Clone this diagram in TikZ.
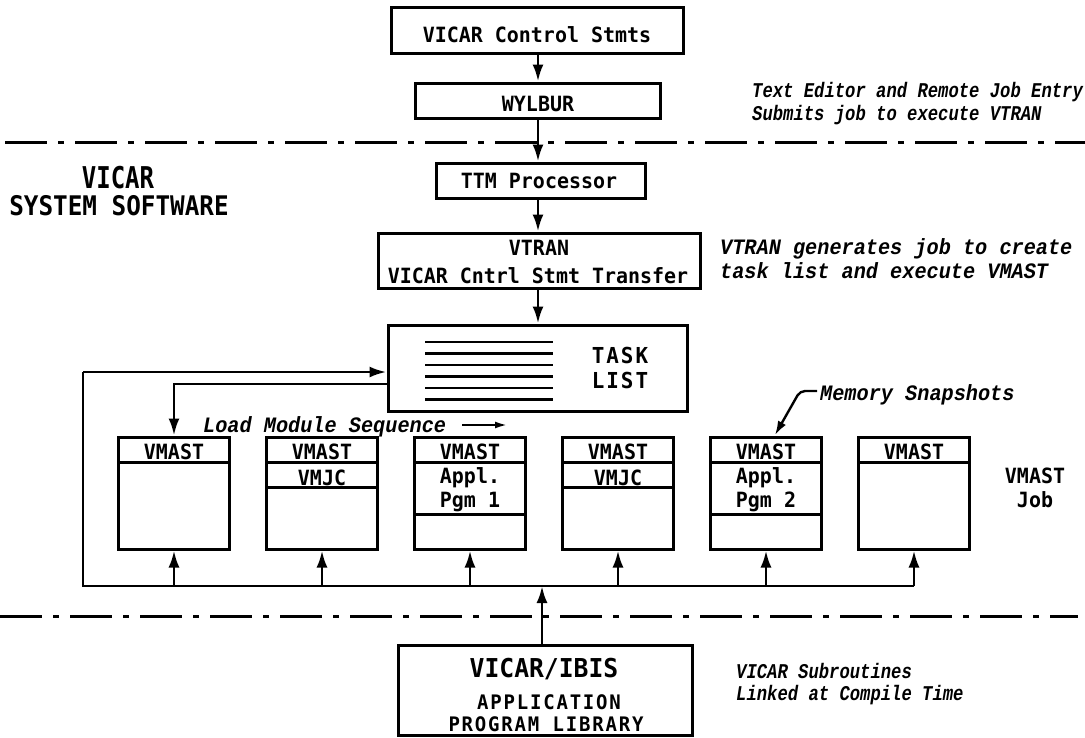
\documentclass[tikz,border=0pt]{standalone}
\usepackage{fontspec}
\usetikzlibrary{arrows.meta,calc}
\newfontfamily\lab{DejaVu Sans Mono}[FakeStretch=0.95]
\newfontfamily\labw{DejaVu Sans Mono}[FakeStretch=0.95,LetterSpace=9]
\newfontfamily\labn{DejaVu Sans Mono}[FakeStretch=0.8]
\newfontfamily\labm{DejaVu Sans Mono}[FakeStretch=0.9]
\newfontfamily\annA{Liberation Mono}[FakeStretch=0.82]
\newfontfamily\annB{Liberation Mono}[FakeStretch=0.92]
\begin{document}
\begin{tikzpicture}[x=1pt,y=-1pt,
  box/.style={draw, line width=3pt, inner sep=0pt},
  lbl/.style={font=\lab\bfseries\fontsize{21}{25}\selectfont, inner sep=0pt, anchor=base},
  wide/.style={font=\labw\bfseries\fontsize{21}{25}\selectfont, inner sep=0pt, anchor=base},
  annsm/.style={font=\annA\bfseries\itshape\fontsize{21}{21}\selectfont, inner sep=0pt, anchor=base west},
  annlg/.style={font=\annB\bfseries\itshape\fontsize{22}{22}\selectfont, inner sep=0pt, anchor=base west},
  conn/.style={line width=2.8pt},
  arr/.style={conn, -{Latex[length=17pt,width=11pt]}},
  div/.style={line width=2.4pt},
  sep/.style={line width=3pt, dash pattern=on 42pt off 11pt on 6pt off 11pt},
  vm/.style={box, minimum width=111pt, minimum height=112pt}]
\useasboundingbox (0,0) rectangle (1085,737);

% separators
\coordinate (s1a) at (5,142); \coordinate (s1b) at (1085,142);
\coordinate (s2a) at (0,616); \coordinate (s2b) at (1078,616);
\draw[sep] (s1a) -- (s1b);
\draw[sep] (s2a) -- (s2b);

% top chain
\node[box, minimum width=292pt, minimum height=46pt] (vcs) at (537,30) {};
\node[lbl] (vcsT) at (537,42) {VICAR Control Stmts};
\node[box, minimum width=245pt, minimum height=35pt] (wyl) at (538,100.5) {};
\node[lbl] (wylT) at (538,111) {WYLBUR};
\node[box, minimum width=209pt, minimum height=35pt] (ttm) at (541,180.5) {};
\node[lbl] (ttmT) at (539,188) {TTM Processor};
\node[box, minimum width=322pt, minimum height=55pt] (vtr) at (539,260.5) {};
\node[lbl] (vtrT1) at (539,255) {VTRAN};
\node[lbl] (vtrT2) at (538,283) {VICAR Cntrl Stmt Transfer};
\node[box, minimum width=299pt, minimum height=86pt] (task) at (537.5,368) {};
\node[wide, font=\labw\bfseries\fontsize{22}{26}\selectfont] (taskT1) at (620,363) {TASK};
\node[wide, font=\labw\bfseries\fontsize{22}{26}\selectfont] (taskT2) at (620,388) {LIST};
\foreach \yy [count=\i] in {342,353.5,365,376.5,388,399.5}{
  \coordinate (tl\i a) at (425,\yy); \coordinate (tl\i b) at (553,\yy);
  \draw[div] (tl\i a) -- (tl\i b);
}

\draw[arr] (vcs.south -| wyl.north) -- (wyl.north);
\draw[arr] (wyl.south) -- (wyl.south |- ttm.north);
\draw[arr] (wyl.south |- ttm.south) -- (wyl.south |- vtr.north);
\draw[arr] (wyl.south |- vtr.south) -- (wyl.south |- task.north);

% left label
\node[font=\labn\bfseries\fontsize{30}{34}\selectfont, inner sep=0pt, anchor=base] (sysA) at (118,188) {VICAR};
\node[font=\labm\bfseries\fontsize{27}{31}\selectfont, inner sep=0pt, anchor=base] (sysB) at (119,215) {SYSTEM SOFTWARE};

% annotations
\node[annsm] (a1) at (752,97) {Text Editor and Remote Job Entry};
\node[annsm] (a2) at (752,120) {Submits job to execute VTRAN};
\node[annlg] (b1) at (720,254) {VTRAN generates job to create};
\node[annlg] (b2) at (720,278) {task list and execute VMAST};
\node[annlg] (lms) at (203,432) {Load Module Sequence};
\coordinate (lmsA) at (462,425); \coordinate (lmsB) at (507,425);
\draw[line width=2pt, -{Latex[length=12pt,width=7pt]}] (lmsA) -- (lmsB);
\node[annlg] (mem) at (820,400) {Memory Snapshots};
\node[annsm] (c1) at (736,678) {VICAR Subroutines};
\node[annsm] (c2) at (736,700) {Linked at Compile Time};

% VMAST boxes
\node[vm] (v1) at (174,493) {};
\node[vm] (v2) at (322,493) {};
\node[vm] (v3) at (470,493) {};
\node[vm] (v4) at (618,493) {};
\node[vm] (v5) at (766,493) {};
\node[vm] (v6) at (914,493) {};
\foreach \b in {v1,v2,v3,v4,v5,v6}{
  \draw[div] ($(\b.north west)+(0,27)$) -- ($(\b.north east)+(0,27)$);
}
\foreach \b in {v2,v4}{
  \draw[div] ($(\b.north west)+(0,52)$) -- ($(\b.north east)+(0,52)$);
}
\foreach \b in {v3,v5}{
  \draw[div] ($(\b.north west)+(0,79)$) -- ($(\b.north east)+(0,79)$);
}
\node[lbl] (v1h) at (174,459) {VMAST};
\node[lbl] (v2h) at (322,459) {VMAST};
\node[lbl] (v3h) at (470,459) {VMAST};
\node[lbl] (v4h) at (618,459) {VMAST};
\node[lbl] (v5h) at (766,459) {VMAST};
\node[lbl] (v6h) at (914,459) {VMAST};
\node[lbl] (v2m) at (322,485) {VMJC};
\node[lbl] (v4m) at (618,485) {VMJC};
\node[lbl] (v3a) at (470,483) {Appl.};
\node[lbl] (v3b) at (470,507) {Pgm 1};
\node[lbl] (v5a) at (766,483) {Appl.};
\node[lbl] (v5b) at (766,507) {Pgm 2};
\node[lbl] (vjA) at (1035,483) {VMAST};
\node[lbl] (vjB) at (1035,507) {Job};

% memory snapshot leader
\coordinate (ms1) at (817,391); \coordinate (ms2) at (800,391); \coordinate (ms3) at (775,435);
\draw[line width=2.4pt, rounded corners=5pt, -{Latex[length=14pt,width=9pt]}] (ms1) -- (ms2) -- (ms3);

% bus
\coordinate (busL) at (83,586);
\coordinate (topL) at (83,372);
\coordinate (busC) at (542,586);
\draw[conn] (v6.south |- busL) -- (busL) -- (topL);
\draw[arr] (topL) -- (topL -| task.west);
\draw[arr] ($(task.west)+(0,16)$) -| (v1.north);
\foreach \b in {v1,v2,v3,v4,v5,v6}{
  \draw[arr] (\b.south |- busL) -- (\b.south);
}

% library
\node[box, minimum width=294pt, minimum height=90pt] (apl) at (545,690) {};
\node[font=\lab\bfseries\fontsize{26}{30}\selectfont, inner sep=0pt, anchor=base] (aplT1) at (544,677) {VICAR/IBIS};
\node[wide, font=\labw\bfseries\fontsize{20}{24}\selectfont] (aplT2) at (549,709) {APPLICATION};
\node[wide, font=\labw\bfseries\fontsize{20}{24}\selectfont] (aplT3) at (546,731) {PROGRAM LIBRARY};
\draw[arr] (apl.north -| busC) -- (busC);
\end{tikzpicture}
\end{document}
